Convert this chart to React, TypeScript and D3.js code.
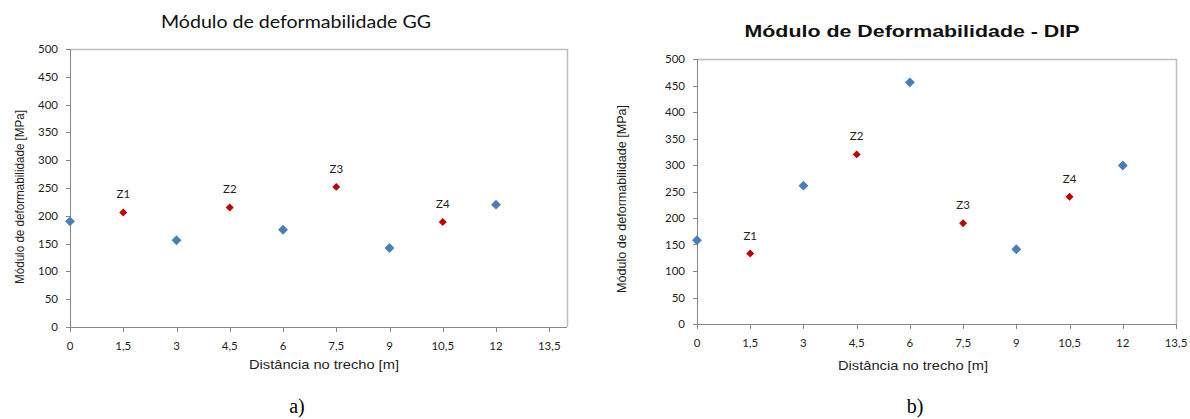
import * as d3 from "d3";

const W = 1190;
const H = 419;

// distances along the stretch [m]
const blueDist = [0, 3, 6, 9, 12];
const redDist = [1.5, 4.5, 7.5, 10.5];
const zoneLabels = ["Z1", "Z2", "Z3", "Z4"];

// panel a) GG
const ggBlue = [190, 156, 175, 142, 220];
const ggRed = [206, 215, 252, 189];

// panel b) DIP
const dipBlue = [158, 261, 456, 141, 299];
const dipRed = [133, 320, 190, 240];

const xTicks = [0, 1.5, 3, 4.5, 6, 7.5, 9, 10.5, 12, 13.5];
const yTicks = [0, 50, 100, 150, 200, 250, 300, 350, 400, 450, 500];

const BLUE = "#4a7ebb";
const RED = "#c00000";
const AXIS = "#868686";
const TEXT = "#1e1e1e";

const fmt = (v: number) => String(v).replace(".", ",");
const diamondType = (d3 as any).symbolDiamond2 ?? d3.symbolDiamond;
const bigDiamond = d3.symbol().type(diamondType).size(62)() ?? "";
const smallDiamond = d3.symbol().type(diamondType).size(40)() ?? "";

type PanelProps = {
  box: { left: number; right: number; top: number; bottom: number };
  xMax: number;
  blue: number[];
  red: number[];
  title: string;
  titleX: number;
  titleY: number;
  titleFont: string;
  titleWeight: number;
  titleSize: number;
  titleLen: number;
  yTitle: string;
  yTitleX: number;
  yTitleLen: number;
  yTitleCenter: number;
  xLabelY: number;
  xTitleX: number;
  xTitleY: number;
  caption: string;
  captionX: number;
};

function Panel(p: PanelProps) {
  const { box } = p;
  const x = d3.scaleLinear().domain([0, p.xMax]).range([box.left, box.right]);
  const y = d3.scaleLinear().domain([0, 500]).range([box.bottom, box.top]);

  return (
    <g>
      <text
        x={p.titleX}
        y={p.titleY}
        textAnchor="middle"
        fontFamily={p.titleFont}
        fontWeight={p.titleWeight}
        fontSize={p.titleSize}
        fill="#111"
        textLength={p.titleLen}
        lengthAdjust="spacingAndGlyphs"
      >
        {p.title}
      </text>

      {/* plot area border (top / right) */}
      <path
        d={`M${box.left},${box.top + 0.5}H${box.right + 0.5}V${box.bottom}`}
        fill="none"
        stroke="#bdbdbd"
        strokeWidth={1.5}
      />

      {/* y axis */}
      <line x1={box.left + 0.5} x2={box.left + 0.5} y1={box.top} y2={box.bottom} stroke={AXIS} />
      {yTicks.map((t) => (
        <g key={`y${t}`}>
          <line x1={box.left - 4} x2={box.left} y1={Math.round(y(t)) + 0.5} y2={Math.round(y(t)) + 0.5} stroke={AXIS} />
          <text
            x={box.left - 12}
            y={y(t)}
            dy="0.35em"
            textAnchor="end"
            fontFamily="Lato, 'Open Sans', sans-serif"
            fontSize={11.5}
            fill={TEXT}
          >
            {t}
          </text>
        </g>
      ))}

      {/* x axis */}
      <line x1={box.left} x2={box.right} y1={box.bottom + 0.5} y2={box.bottom + 0.5} stroke={AXIS} />
      {xTicks.map((t) => (
        <g key={`x${t}`}>
          <line x1={Math.round(x(t)) + 0.5} x2={Math.round(x(t)) + 0.5} y1={box.bottom} y2={box.bottom + 5} stroke={AXIS} />
          <text
            x={x(t)}
            y={p.xLabelY}
            textAnchor="middle"
            fontFamily="Lato, 'Open Sans', sans-serif"
            fontSize={11.5}
            fill={TEXT}
          >
            {fmt(t)}
          </text>
        </g>
      ))}

      <text
        x={p.xTitleX}
        y={p.xTitleY}
        textAnchor="middle"
        fontFamily="'Liberation Sans Narrow', 'Liberation Sans', sans-serif"
        fontSize={13}
        fill={TEXT}
        textLength={150}
        lengthAdjust="spacingAndGlyphs"
      >
        Distância no trecho [m]
      </text>

      <text
        transform={`translate(${p.yTitleX},${p.yTitleCenter}) rotate(-90)`}
        textAnchor="middle"
        fontFamily="'Liberation Sans Narrow', 'Liberation Sans', sans-serif"
        fontSize={13}
        fill={TEXT}
        textLength={p.yTitleLen}
        lengthAdjust="spacingAndGlyphs"
      >
        {p.yTitle}
      </text>

      {p.blue.map((v, i) => (
        <path key={`b${i}`} d={bigDiamond} transform={`translate(${x(blueDist[i])},${y(v)})`} fill={BLUE} />
      ))}
      {p.red.map((v, i) => (
        <g key={`r${i}`}>
          <path d={smallDiamond} transform={`translate(${x(redDist[i])},${y(v)})`} fill={RED} />
          <text
            x={x(redDist[i])}
            y={y(v) - 14}
            textAnchor="middle"
            fontFamily="Lato, 'Open Sans', sans-serif"
            fontSize={11.5}
            fill={TEXT}
          >
            {zoneLabels[i]}
          </text>
        </g>
      ))}

      <text x={p.captionX} y={413} textAnchor="middle" fontFamily="'Liberation Serif', 'DejaVu Serif', serif" fontSize={20} fill="#000">
        {p.caption}
      </text>
    </g>
  );
}

export default function App() {
  return (
    <svg width={W} height={H} viewBox={`0 0 ${W} ${H}`} style={{ position: "absolute", left: 0, top: 0, background: "#fff" }}>
      <rect width={W} height={H} fill="#fff" />
      <Panel
        box={{ left: 70, right: 567, top: 49, bottom: 327 }}
        xMax={14}
        blue={ggBlue}
        red={ggRed}
        title="Módulo de deformabilidade GG"
        titleX={296}
        titleY={28}
        titleFont="Lato, 'Open Sans', sans-serif"
        titleWeight={400}
        titleSize={18}
        titleLen={270}
        yTitle="Módulo  de  deformabilidade   [MPa]"
        yTitleX={24}
        yTitleLen={174}
        yTitleCenter={197}
        xLabelY={350}
        xTitleX={324}
        xTitleY={369}
        caption="a)"
        captionX={297}
      />
      <Panel
        box={{ left: 697, right: 1176, top: 59, bottom: 324 }}
        xMax={13.5}
        blue={dipBlue}
        red={dipRed}
        title="Módulo de Deformabilidade - DIP"
        titleX={912}
        titleY={37}
        titleFont="'Liberation Sans', Arial, sans-serif"
        titleWeight={700}
        titleSize={17}
        titleLen={335}
        yTitle="Módulo de deformabilidade [MPa]"
        yTitleX={626}
        yTitleLen={188}
        yTitleCenter={199}
        xLabelY={347}
        xTitleX={913}
        xTitleY={370}
        caption="b)"
        captionX={915}
      />
    </svg>
  );
}
